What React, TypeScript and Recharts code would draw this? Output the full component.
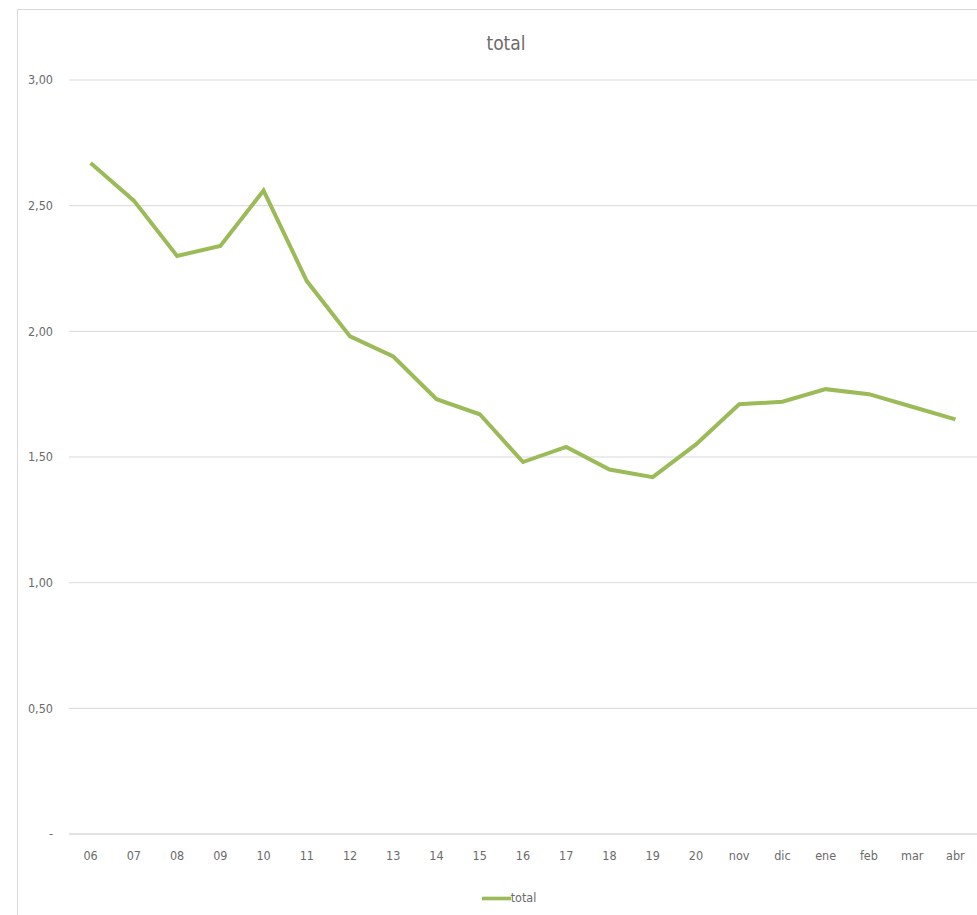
import React from "react";
import { CartesianGrid, Legend, Line, LineChart, XAxis, YAxis } from "recharts";

const categories = ["06", "07", "08", "09", "10", "11", "12", "13", "14", "15", "16", "17", "18", "19", "20", "nov", "dic", "ene", "feb", "mar", "abr"];
const totalValues = [2.67, 2.52, 2.30, 2.34, 2.56, 2.20, 1.98, 1.90, 1.73, 1.67, 1.48, 1.54, 1.45, 1.42, 1.55, 1.71, 1.72, 1.77, 1.75, 1.70, 1.65];
const yTicks = [0, 0.5, 1, 1.5, 2, 2.5, 3];

const data = categories.map((c, i) => ({ name: c, total: totalValues[i] }));

const FONT = "'DejaVu Sans Condensed', 'Liberation Sans Narrow', Roboto, sans-serif";
const TEXT = "#6b6b6b";
const GRID = "#d9d9d9";
const GREEN = "#9bbb59";

const fmt = (v: number) => (v === 0 ? "-" : v.toFixed(2).replace(".", ","));

export default function App() {
  return (
    <div
      style={{
        position: "absolute",
        left: 17,
        top: 9,
        width: 959,
        height: 905,
        borderTop: `1px solid ${GRID}`,
        borderLeft: `1px solid ${GRID}`,
        background: "#fff",
        fontFamily: FONT,
      }}
    >
      <div
        style={{
          position: "absolute",
          left: 0,
          width: 976,
          top: 22,
          textAlign: "center",
          fontSize: 19,
          color: TEXT,
        }}
      >
        total
      </div>
      <LineChart width={959} height={905} data={data} margin={{ top: 70, right: 0, bottom: 51, left: 11 }}>
        <CartesianGrid vertical={false} stroke={GRID} />
        <XAxis
          dataKey="name"
          padding={{ left: 21.6, right: 21.6 }}
          stroke={GRID}
          tickLine={false}
          tickMargin={11}
          tick={{ fill: TEXT, fontSize: 12.5, fontFamily: FONT }}
          interval={0}
        />
        <YAxis
          width={40}
          domain={[0, 3]}
          ticks={yTicks}
          axisLine={false}
          tickLine={false}
          tickMargin={10}
          tickFormatter={fmt}
          tick={{ fill: TEXT, fontSize: 12.5, fontFamily: FONT }}
        />
        <Legend
          verticalAlign="middle"
          align="center"
          iconType="plainline"
          iconSize={29}
          wrapperStyle={{ top: 874, left: 8, width: 976, fontSize: 12.5, fontFamily: FONT }}
          formatter={(v) => <span style={{ color: TEXT, marginLeft: -4 }}>{v}</span>}
        />
        <Line
          type="linear"
          dataKey="total"
          name="total"
          stroke={GREEN}
          strokeWidth={4}
          dot={false}
          activeDot={false}
          isAnimationActive={false}
        />
      </LineChart>
    </div>
  );
}
